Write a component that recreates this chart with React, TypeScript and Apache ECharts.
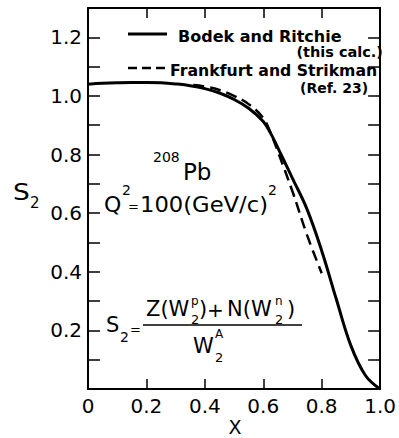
import React, { useEffect, useRef } from "react";
import * as echarts from "echarts";

const xSolid = [0, 0.05, 0.1, 0.15, 0.2, 0.25, 0.3, 0.35, 0.4, 0.45, 0.5, 0.55, 0.6, 0.625, 0.65, 0.675, 0.7, 0.75, 0.8, 0.85, 0.9, 0.95, 1.0];
const ySolid = [1.04, 1.043, 1.045, 1.046, 1.046, 1.045, 1.041, 1.035, 1.025, 1.01, 0.988, 0.958, 0.913, 0.873, 0.823, 0.771, 0.719, 0.613, 0.472, 0.307, 0.148, 0.046, 0.0];
const xDash = [0.36, 0.4, 0.45, 0.5, 0.55, 0.6, 0.63, 0.65, 0.7, 0.75, 0.8];
const yDash = [1.037, 1.032, 1.02, 1.0, 0.972, 0.924, 0.862, 0.81, 0.674, 0.525, 0.395];
const xTicks = ["0", "0.2", "0.4", "0.6", "0.8", "1.0"];
const yTicks = ["0.2", "0.4", "0.6", "0.8", "1.0", "1.2"];
const legendNames = ["Bodek and Ritchie", "Frankfurt and Strikman"];

const F = "'DejaVu Sans', sans-serif";

function txt(text: string, x: number, y: number, size: number, opts: any = {}) {
  return {
    type: "text",
    silent: true,
    x,
    y,
    scaleX: opts.sx || 1,
    style: {
      text,
      x: 0,
      y: 0,
      font: `${opts.weight || "normal"} ${size}px ${F}`,
      fill: "#000",
      textAlign: opts.align || "left",
      textVerticalAlign: "middle",
    },
  };
}

export default function App() {
  const ref = useRef<HTMLDivElement>(null);
  useEffect(() => {
    const chart = echarts.init(ref.current!, null, { renderer: "svg" });
    const axisCommon = {
      type: "value",
      axisLine: { show: true, onZero: false, lineStyle: { color: "#000", width: 2 } },
      splitLine: { show: false },
    };
    const xLabel = (v: number) => {
      const i = Math.round(v * 5);
      return Math.abs(v * 5 - i) < 1e-6 && i >= 0 && i <= 5 ? xTicks[i] : "";
    };
    const yLabel = (v: number) => {
      const t = Math.round(v * 10);
      if (t % 2 !== 0 || t <= 0 || t > 12) return "";
      return yTicks[t / 2 - 1];
    };
    chart.setOption({
      animation: false,
      backgroundColor: "#fff",
      grid: { left: 88, right: 15, top: 8, bottom: 49, containLabel: false },
      xAxis: [
        {
          ...axisCommon,
          position: "bottom",
          min: 0,
          max: 1,
          interval: 0.2,
          axisTick: { inside: true, length: 10, lineStyle: { color: "#000", width: 1.5 } },
          axisLabel: { formatter: xLabel, fontSize: 20, color: "#000", fontFamily: F, margin: 7 },
        },
        {
          ...axisCommon,
          position: "top",
          min: 0,
          max: 1,
          interval: 0.2,
          axisTick: { inside: true, length: 10, lineStyle: { color: "#000", width: 1.5 } },
          axisLabel: { show: false },
        },
      ],
      yAxis: [
        {
          ...axisCommon,
          position: "left",
          min: 0,
          max: 1.3,
          interval: 0.1,
          axisTick: { inside: true, length: 12, lineStyle: { color: "#000", width: 1.5 } },
          axisLabel: { formatter: yLabel, fontSize: 20, color: "#000", fontFamily: F, margin: 6, showMaxLabel: false },
        },
        {
          ...axisCommon,
          position: "right",
          min: 0,
          max: 1.3,
          interval: 0.1,
          axisTick: { inside: true, length: 12, lineStyle: { color: "#000", width: 1.5 } },
          axisLabel: { show: false },
        },
      ],
      series: [
        {
          name: legendNames[0],
          type: "line",
          data: xSolid.map((x, i) => [x, ySolid[i]]),
          smooth: 0.4,
          showSymbol: false,
          symbol: "none",
          lineStyle: { color: "#000", width: 3 },
          z: 3,
        },
        {
          name: legendNames[1],
          type: "line",
          data: xDash.map((x, i) => [x, yDash[i]]),
          smooth: 0.4,
          showSymbol: false,
          symbol: "none",
          lineStyle: { color: "#000", width: 2.5, type: [11, 6] },
          z: 2,
        },
      ],
      graphic: [
        { type: "line", silent: true, shape: { x1: 128, y1: 34, x2: 167, y2: 34 }, style: { stroke: "#000", lineWidth: 3 } },
        txt(legendNames[0], 178, 36, 16, { weight: "bold" }),
        txt("(this calc.)", 383, 52, 14.5, { weight: "bold", align: "right" }),
        { type: "line", silent: true, shape: { x1: 128, y1: 68, x2: 168, y2: 68 }, style: { stroke: "#000", lineWidth: 2.5, lineDash: [9, 5] } },
        txt(legendNames[1], 170, 70, 15.7, { weight: "bold" }),
        txt("(Ref. 23)", 300, 88, 14, { weight: "bold" }),
        // axis titles
        txt("S", 13, 192, 23, { sx: 1.15 }),
        txt("2", 30, 203, 15),
        txt("X", 235, 427, 19, { align: "center" }),
        // 208Pb
        txt("208", 153, 157, 14),
        txt("Pb", 183, 172, 23),
        // Q^2 = 100 (GeV/c)^2
        txt("Q", 104, 204, 22),
        txt("2", 122, 190, 14),
        txt("=", 128, 206, 13),
        txt("100(GeV/c)", 140, 204, 22, { sx: 1.03 }),
        txt("2", 268, 190, 14),
        // formula
        txt("S", 106, 325, 21),
        txt("2", 120, 337, 14),
        txt("=", 130, 329, 13),
        { type: "line", silent: true, shape: { x1: 143, y1: 325, x2: 302, y2: 325 }, style: { stroke: "#000", lineWidth: 1.6 } },
        txt("Z(W", 146, 309, 21),
        txt("2", 191, 319, 13),
        txt("p", 191, 301, 12),
        txt(")", 199, 309, 21),
        txt("+", 207, 310, 20),
        txt("N(W", 227, 309, 21),
        txt("2", 275, 319, 13),
        txt("n", 275, 301, 12),
        txt(")", 287, 309, 21),
        txt("W", 193, 346, 21),
        txt("A", 215, 334, 12),
        txt("2", 215, 357, 13),
      ],
    });
    return () => chart.dispose();
  }, []);
  return <div ref={ref} style={{ position: "absolute", left: 0, top: 0, width: 399, height: 438 }} />;
}
